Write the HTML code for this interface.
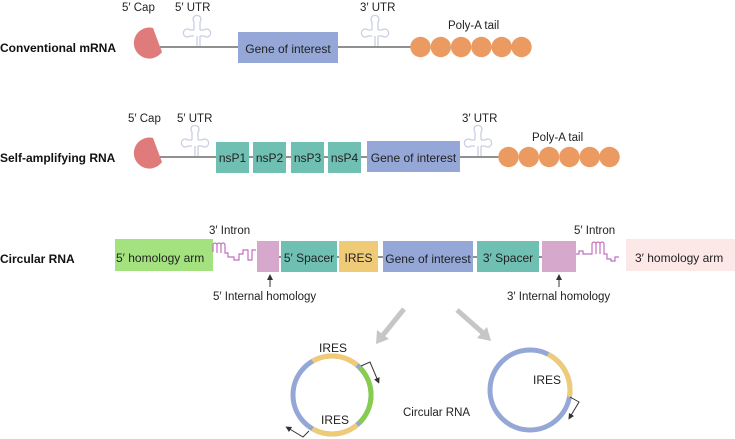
<!DOCTYPE html>
<html><head><meta charset="utf-8"><style>
html,body{margin:0;padding:0;background:#fff;}
svg{display:block;font-family:"Liberation Sans",Arial,sans-serif;}
</style></head><body>
<svg width="735" height="439" viewBox="0 0 735 439" xmlns="http://www.w3.org/2000/svg">
<defs>
<g id="utr" fill="none" stroke="#c9cfe2" stroke-width="1.3">
<path d="M0,0 V-10 M-3,-10 h-4 a4,4 0 1 1 0,-6 h4 M3,-10 h4 a4,4 0 1 0 0,-6 h-4 M-3,-16 V-24 a4,4 0 1 1 6,0 V-16 M3,0 V-10"/>
</g>
<marker id="ah" markerWidth="6" markerHeight="6" refX="3" refY="3" orient="auto"><path d="M0,0 L6,3 L0,6 z" fill="#333"/></marker>
</defs>

<!-- Row 1 -->
<text x="0" y="52" font-size="12" font-weight="bold" fill="#111">Conventional mRNA</text>
<text x="122" y="11" font-size="11.5" fill="#222">5′ Cap</text>
<text x="175" y="11" font-size="11.5" fill="#222">5′ UTR</text>
<text x="360" y="11" font-size="11.5" fill="#222">3′ UTR</text>
<text x="448" y="29" font-size="11.5" fill="#222">Poly-A tail</text>
<line x1="160" y1="47" x2="412" y2="47" stroke="#222" stroke-width="1"/>
<use href="#utr" x="197" y="46"/>
<use href="#utr" x="375" y="46"/>
<path d="M153,28 L162,52 A15.5,15.5 0 1,1 153,28 Z" fill="#e07b7b"/>
<rect x="238" y="32" width="100" height="31" fill="#94a7d6"/>
<text x="288" y="53" font-size="12" fill="#222" text-anchor="middle">Gene of interest</text>
<g fill="#eb9a62">
<circle cx="420.5" cy="47" r="10.2"/><circle cx="440.8" cy="47" r="10.2"/><circle cx="461.1" cy="47" r="10.2"/><circle cx="481.4" cy="47" r="10.2"/><circle cx="501.7" cy="47" r="10.2"/><circle cx="521.5" cy="47" r="10.2"/>
</g>

<!-- Row 2 -->
<text x="0" y="162" font-size="12" font-weight="bold" fill="#111">Self-amplifying RNA</text>
<text x="128" y="122" font-size="11.5" fill="#222">5′ Cap</text>
<text x="177" y="122" font-size="11.5" fill="#222">5′ UTR</text>
<text x="462" y="122" font-size="11.5" fill="#222">3′ UTR</text>
<text x="532" y="141" font-size="11.5" fill="#222">Poly-A tail</text>
<line x1="160" y1="157" x2="500" y2="157" stroke="#222" stroke-width="1"/>
<use href="#utr" x="195" y="156"/>
<use href="#utr" x="478" y="156"/>
<path d="M153,138 L162,162 A15.5,15.5 0 1,1 153,138 Z" fill="#e07b7b"/>
<g fill="#6fbfb2">
<rect x="216" y="142" width="33" height="31"/><rect x="253" y="142" width="33" height="31"/><rect x="291" y="142" width="33" height="31"/><rect x="328" y="142" width="33" height="31"/>
</g>
<g font-size="12" fill="#222" text-anchor="middle">
<text x="232.5" y="162">nsP1</text><text x="269.5" y="162">nsP2</text><text x="307.5" y="162">nsP3</text><text x="344.5" y="162">nsP4</text>
</g>
<rect x="367" y="141" width="93" height="31" fill="#94a7d6"/>
<text x="413.5" y="162" font-size="12" fill="#222" text-anchor="middle">Gene of interest</text>
<g fill="#eb9a62">
<circle cx="508.5" cy="157" r="10.2"/><circle cx="528.8" cy="157" r="10.2"/><circle cx="549.1" cy="157" r="10.2"/><circle cx="569.4" cy="157" r="10.2"/><circle cx="589.7" cy="157" r="10.2"/><circle cx="609.5" cy="157" r="10.2"/>
</g>

<!-- Row 3 -->
<text x="0" y="263" font-size="12" font-weight="bold" fill="#111">Circular RNA</text>
<text x="209" y="234" font-size="11.5" fill="#222">3′ Intron</text>
<text x="574" y="234" font-size="11.5" fill="#222">5′ Intron</text>
<line x1="279" y1="257" x2="560" y2="257" stroke="#222" stroke-width="1"/>
<rect x="115" y="239" width="98" height="32" fill="#a3e27f"/>
<text x="116" y="262" font-size="12" fill="#222">5′ homology arm</text>
<path d="M213,252 v-7 a2,2 0 0 1 4,0 v8 v-8 a2,2 0 0 1 4,0 v8 v-8 a2,2 0 0 1 4,0 v8 h3 v4 h6 v3 h5 v-6 h4 v-4 h5 v10 h4 v-10 h4" fill="none" stroke="#c16fc0" stroke-width="1.2"/>
<rect x="257" y="241" width="22" height="31" fill="#d6a9cc"/>
<rect x="281" y="241" width="56" height="31" fill="#6fbfb2"/>
<text x="309" y="262" font-size="12" fill="#222" text-anchor="middle">5′ Spacer</text>
<rect x="339" y="241" width="39" height="31" fill="#efcb78"/>
<text x="358.5" y="262" font-size="12" fill="#222" text-anchor="middle">IRES</text>
<rect x="383" y="241" width="90" height="31" fill="#94a7d6"/>
<text x="428" y="263" font-size="12" fill="#222" text-anchor="middle">Gene of interest</text>
<rect x="477" y="241" width="62" height="31" fill="#6fbfb2"/>
<text x="508" y="262" font-size="12" fill="#222" text-anchor="middle">3′ Spacer</text>
<rect x="542" y="241" width="34" height="31" fill="#d6a9cc"/>
<path d="M576,254 h3 v-3 h4 v3 h9 v-10 a2,2 0 0 1 4,0 v10 v-10 a2,2 0 0 1 4,0 v10 v-10 a2,2 0 0 1 4,0 v10 h3 v5 h4 v2 h4 v-4 h4" fill="none" stroke="#c16fc0" stroke-width="1.2"/>
<rect x="626" y="239" width="109" height="32" fill="#fde8e8"/>
<text x="635" y="262" font-size="12" fill="#222">3′ homology arm</text>
<line x1="270" y1="287" x2="270" y2="277" stroke="#333" stroke-width="1" marker-end="url(#ah)"/>
<line x1="559" y1="287" x2="559" y2="277" stroke="#333" stroke-width="1" marker-end="url(#ah)"/>
<text x="213" y="300" font-size="11.5" fill="#222">5′ Internal homology</text>
<text x="507" y="300" font-size="11.5" fill="#222">3′ Internal homology</text>

<!-- gray arrows -->
<g stroke="#c6c6c6" stroke-width="5" fill="#c6c6c6">
<line x1="404" y1="309" x2="383" y2="335"/>
<path d="M376,344 L377,330 L389,339 Z" stroke="none"/>
<line x1="457" y1="310" x2="483" y2="333"/>
<path d="M491,341 L477,338 L487,327 Z" stroke="none"/>
</g>

<!-- left circle -->
<g fill="none" stroke-width="5">
<circle cx="332" cy="395" r="39" stroke="#94a7d6"/>
<path d="M312.5,361.2 A39,39 0 0 1 357.1,365.1" stroke="#efcb78"/>
<path d="M359.6,367.4 A39,39 0 0 1 359.6,422.6" stroke="#88cc4f"/>
<path d="M357.1,424.9 A39,39 0 0 1 312.5,428.8" stroke="#efcb78"/>
</g>
<path d="M361,366 L370,362 L378,381" fill="none" stroke="#333" stroke-width="1" marker-end="url(#ah)"/>
<path d="M309,431 L303,437 L288,428" fill="none" stroke="#333" stroke-width="1" marker-end="url(#ah)"/>
<text x="319" y="352" font-size="12" fill="#222">IRES</text>
<text x="321" y="424" font-size="12" fill="#222">IRES</text>
<text x="403" y="416" font-size="11.5" fill="#222">Circular RNA</text>

<!-- right circle -->
<g fill="none" stroke-width="5">
<circle cx="530" cy="390" r="40" stroke="#94a7d6"/>
<path d="M548,354.3 A40,40 0 0 1 569.4,396.9" stroke="#efcb78"/>
</g>
<path d="M570,397 L579,402 L570,417" fill="none" stroke="#333" stroke-width="1" marker-end="url(#ah)"/>
<text x="533" y="384" font-size="12" fill="#222">IRES</text>
</svg>
</body></html>
